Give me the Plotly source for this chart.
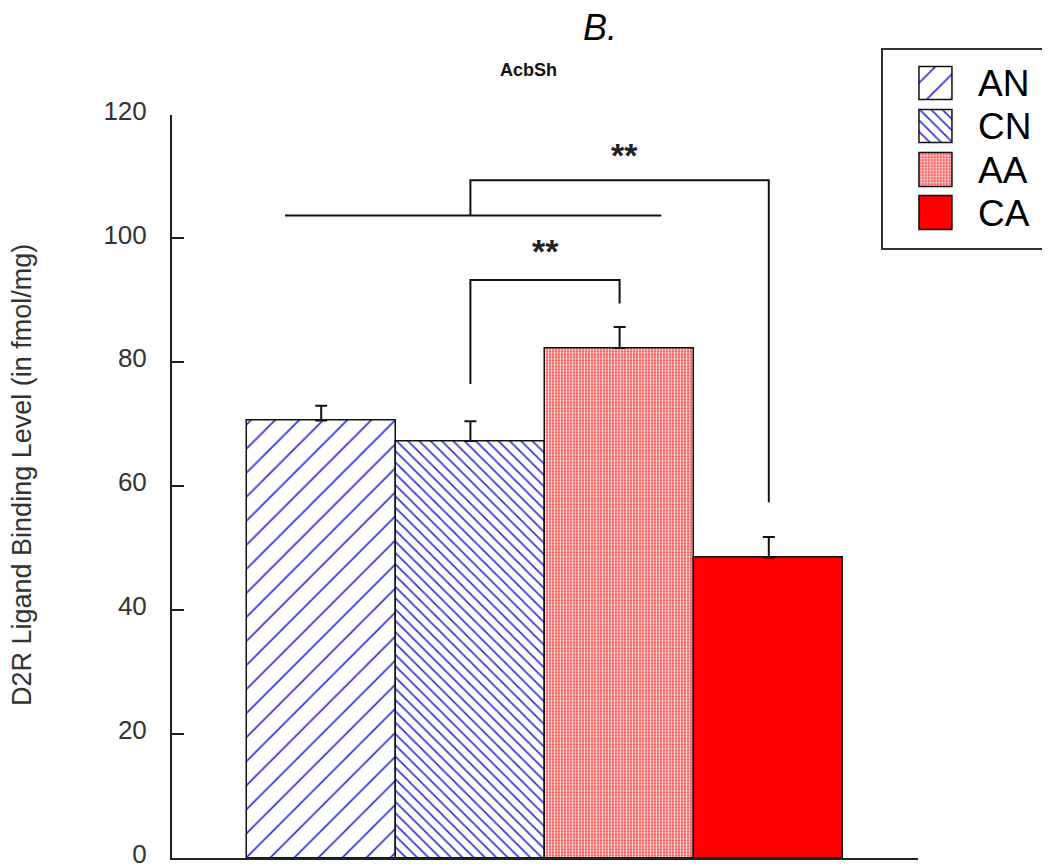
import plotly.graph_objects as go

# ---- data ----
groups = ["AN", "CN", "AA", "CA"]
means = [70.6, 67.3, 82.3, 48.5]
sem = [2.4, 3.2, 3.4, 3.3]
y_ticks = [0, 20, 40, 60, 80, 100, 120]

# significance annotations (data coordinates)
sig_big_line = dict(x0=-0.243, x1=2.28, y=103.7)
sig_upper = dict(x0=1.0, x1=3.0, y_top=109.4, y_left=103.7, y_right=57.4, label="**", lx=2.03, ly=113.5)
sig_lower = dict(x0=1.0, x1=2.0, y_top=93.3, y_left=76.5, y_right=89.5, label="**", lx=1.5, ly=98.0)

# ---- styles ----
pat_shape = ["/", "\\", ".", ""]
pat_fg = ["#3030d8", "#3030d8", "#ffffff", "#ff0000"]
pat_bg = ["#ffffff", "#ffffff", "#ff3c3c", "#ff0000"]
pat_size = [17, 8, 3, 8]
pat_sol = [0.1, 0.2, 0.45, 0.3]
bar_fill = ["#ffffff", "#ffffff", "#ff6666", "#ff0000"]

W, H = 1050, 867
OFF = 8  # page body margin
FONT = "Arial, Liberation Sans, Helvetica, sans-serif"

def px_x(p):
    return (p - OFF) / W

def px_y(p):
    return (H - (p - OFF)) / H

fig = go.Figure()

for i, g in enumerate(groups):
    pattern = dict(shape=pat_shape[i], fgcolor=pat_fg[i], bgcolor=pat_bg[i],
                   size=pat_size[i], solidity=pat_sol[i], fillmode="replace")
    fig.add_trace(go.Bar(
        x=[g], y=[means[i]], width=1.0, name=g,
        marker=dict(color=bar_fill[i], pattern=pattern, line=dict(color="#111111", width=1.5)),
        error_y=dict(type="data", symmetric=False, array=[sem[i]], arrayminus=[0],
                     color="#111111", thickness=2, width=6),
        showlegend=False, hoverinfo="skip",
        xaxis="x", yaxis="y",
    ))
    # legend swatch drawn as a bar on a hidden auxiliary axis
    fig.add_trace(go.Bar(
        y=[g], x=[1], orientation="h", width=0.78, name=g,
        marker=dict(color=bar_fill[i], pattern=pattern, line=dict(color="#111111", width=1.5)),
        showlegend=False, hoverinfo="skip",
        xaxis="x2", yaxis="y2",
    ))

line_style = dict(color="#111111", width=2)
shapes = []
shapes.append(dict(type="line", xref="x", yref="y",
                   x0=sig_big_line["x0"], x1=sig_big_line["x1"],
                   y0=sig_big_line["y"], y1=sig_big_line["y"], line=line_style))
for s in (sig_upper, sig_lower):
    shapes.append(dict(type="path", xref="x", yref="y",
                       path=f"M {s['x0']},{s['y_left']} L {s['x0']},{s['y_top']} "
                            f"L {s['x1']},{s['y_top']} L {s['x1']},{s['y_right']}",
                       line=line_style))
# legend frame
shapes.append(dict(type="rect", xref="paper", yref="paper",
                   x0=px_x(882), x1=px_x(1047), y0=px_y(249), y1=px_y(49),
                   line=dict(color="#333333", width=2), fillcolor="rgba(0,0,0,0)"))

annotations = []
for s in (sig_upper, sig_lower):
    annotations.append(dict(x=s["lx"], y=s["ly"], xref="x", yref="y", text="<b>" + s["label"] + "</b>",
                            showarrow=False, font=dict(family=FONT, size=34, color="#222222"),
                            xanchor="center", yanchor="middle"))
for g in groups:
    annotations.append(dict(x=px_x(976), y=g, xref="paper", yref="y2", text=g,
                            showarrow=False, xanchor="left", yanchor="middle",
                            font=dict(family=FONT, size=37, color="#000000")))
annotations.append(dict(x=px_x(600), y=px_y(27), xref="paper", yref="paper", text="<i>B.</i>",
                        showarrow=False, xanchor="center", yanchor="middle",
                        font=dict(family=FONT, size=36, color="#000000")))
annotations.append(dict(x=px_x(528), y=px_y(70), xref="paper", yref="paper", text="<b>AcbSh</b>",
                        showarrow=False, xanchor="center", yanchor="middle",
                        font=dict(family=FONT, size=18, color="#111111")))
annotations.append(dict(x=px_x(22), y=(px_y(235) + px_y(715)) / 2, xref="paper", yref="paper",
                        text="D2R Ligand Binding Level (in fmol/mg)", textangle=-90,
                        showarrow=False, xanchor="center", yanchor="middle",
                        font=dict(family=FONT, size=27, color="#333333")))

fig.update_layout(
    width=W, height=H,
    margin=dict(l=0, r=0, t=0, b=0),
    paper_bgcolor="white", plot_bgcolor="rgba(0,0,0,0)",
    font=dict(family=FONT, color="#222222"),
    showlegend=False,
    xaxis=dict(domain=[px_x(172), px_x(918)], range=[-1, 4], type="category",
               categoryorder="array", categoryarray=groups, automargin=False,
               showticklabels=False, ticks="", showgrid=False, zeroline=False,
               showline=True, linecolor="#222222", linewidth=2, fixedrange=True),
    yaxis=dict(domain=[px_y(858), px_y(114.5)], range=[0, 120], tickvals=y_ticks,
               automargin=False, ticklabeloverflow="allow", ticklabelshift=-4,
               ticks="inside", ticklen=12, tickwidth=2, tickcolor="#222222",
               ticklabelstandoff=18,
               tickfont=dict(family=FONT, size=26, color="#333333"),
               showgrid=False, zeroline=False,
               showline=True, linecolor="#222222", linewidth=2, fixedrange=True),
    xaxis2=dict(domain=[px_x(916.7), px_x(956.3)], range=[-0.1, 1.1], visible=False,
                anchor="y2", automargin=False),
    yaxis2=dict(domain=[px_y(235.7), px_y(61.3)], type="category",
                categoryorder="array", categoryarray=groups[::-1],
                visible=False, anchor="x2", automargin=False),
    shapes=shapes,
    annotations=annotations,
    bargap=0,
)

fig.write_html("out.html")
